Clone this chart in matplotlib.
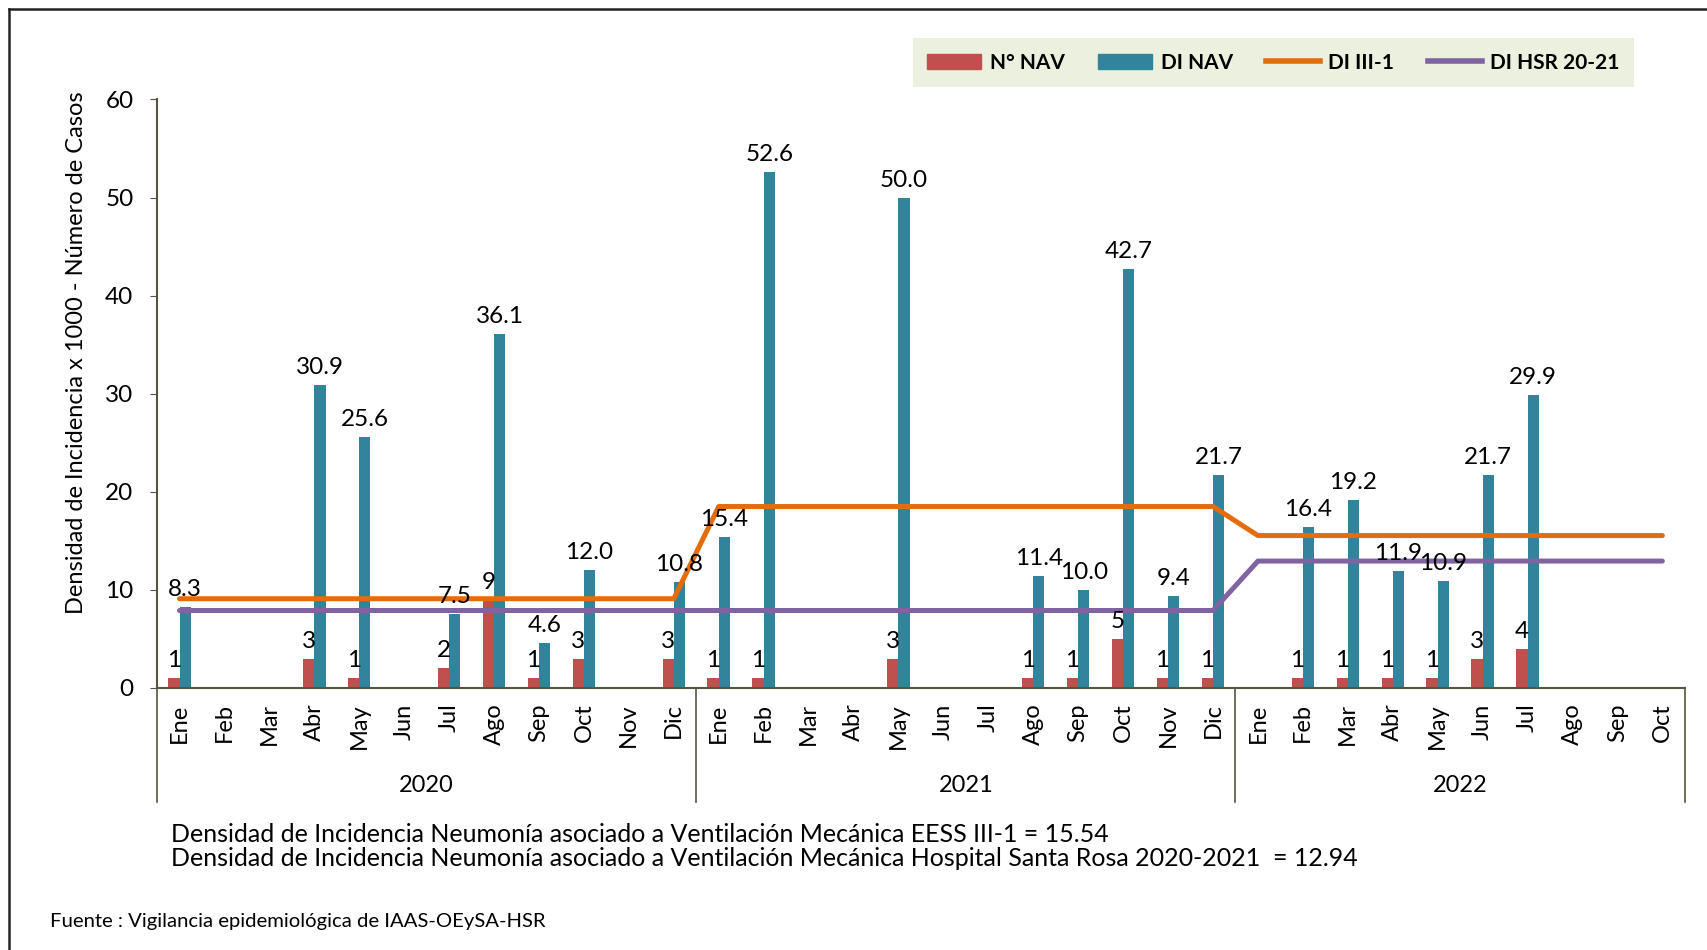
import numpy as np
import matplotlib
matplotlib.use("Agg")
import matplotlib.pyplot as plt
from matplotlib.patches import Patch
from matplotlib.lines import Line2D

plt.rcParams['font.family'] = ['Lato', 'DejaVu Sans']

# data (None = sin dato)
months = ["Ene", "Feb", "Mar", "Abr", "May", "Jun", "Jul", "Ago", "Sep", "Oct", "Nov", "Dic"] * 2 + \
         ["Ene", "Feb", "Mar", "Abr", "May", "Jun", "Jul", "Ago", "Sep", "Oct"]
years = ["2020", "2021", "2022"]
year_len = [12, 12, 10]

n_nav = [1, None, None, 3, 1, None, 2, 9, 1, 3, None, 3,
         1, 1, None, None, 3, None, None, 1, 1, 5, 1, 1,
         None, 1, 1, 1, 1, 3, 4, None, None, None]
di_nav = [8.3, None, None, 30.9, 25.6, None, 7.5, 36.1, 4.6, 12.0, None, 10.8,
          15.4, 52.6, None, None, 50.0, None, None, 11.4, 10.0, 42.7, 9.4, 21.7,
          None, 16.4, 19.2, 11.9, 10.9, 21.7, 29.9, None, None, None]
di_iii1 = [9.1] * 12 + [18.5] * 12 + [15.54] * 10
di_hsr = [7.9] * 24 + [12.94] * 10

c_red = "#C0504D"
c_teal = "#31849B"
c_orange = "#E46C0A"
c_purple = "#8064A2"
c_axis = "#57553F"

fig = plt.figure(figsize=(17.07, 9.5), dpi=100)
ax = fig.add_axes([0.092, 0.2758, 0.895, 0.6195])

x = np.arange(len(months))
w = 0.25
red_vals = np.array([np.nan if v is None else v for v in n_nav], dtype=float)
teal_vals = np.array([np.nan if v is None else v for v in di_nav], dtype=float)

ax.bar(x - w / 2, np.nan_to_num(red_vals), w, color=c_red, zorder=2)
ax.bar(x + w / 2, np.nan_to_num(teal_vals), w, color=c_teal, zorder=2)
ax.plot(x, di_iii1, color=c_orange, lw=3.6, solid_capstyle='round', zorder=3)
ax.plot(x, di_hsr, color=c_purple, lw=3.6, solid_capstyle='round', zorder=3)

# data labels
for i in range(len(x)):
    if n_nav[i] is not None:
        ax.annotate(f"{n_nav[i]}", (x[i] - w / 2, n_nav[i]), xytext=(0, 5),
                    textcoords="offset points", ha="center", va="bottom", fontsize=17.5, zorder=4)
    if di_nav[i] is not None:
        ax.annotate(f"{di_nav[i]:.1f}", (x[i] + w / 2, di_nav[i]), xytext=(0, 5),
                    textcoords="offset points", ha="center", va="bottom", fontsize=17.5, zorder=4)

ax.set_xlim(-0.5, len(x) - 0.5)
ax.set_ylim(0, 60)
ax.set_yticks(range(0, 61, 10))
ax.tick_params(axis='y', labelsize=17.5, length=5, color=c_axis, pad=12)
ax.set_xticks(x)
ax.set_xticklabels(months, rotation=90, fontsize=17)
ax.tick_params(axis='x', length=0, pad=11)

for s in ["top", "right"]:
    ax.spines[s].set_visible(False)
for s in ["left", "bottom"]:
    ax.spines[s].set_color(c_axis)
    ax.spines[s].set_linewidth(1.5)

ax.set_ylabel("Densidad de Incidencia x 1000 - Número de Casos", fontsize=17)
ax.yaxis.set_label_coords(-0.046, 0.569)

# year groups
start = 0
bounds = [-0.5]
for yr, n in zip(years, year_len):
    ax.text(start + n / 2 - 0.5, -0.165, yr, transform=ax.get_xaxis_transform(),
            ha="center", va="center", fontsize=17)
    start += n
    bounds.append(start - 0.5)
for b in bounds:
    ax.plot([b, b], [0, -0.194], transform=ax.get_xaxis_transform(), color=c_axis,
            lw=1.2, clip_on=False)

# legend
handles = [Patch(color=c_red), Patch(color=c_teal),
           Line2D([], [], color=c_orange, lw=4), Line2D([], [], color=c_purple, lw=4)]
labels = ["N° NAV", "DI NAV", "DI III-1", "DI HSR 20-21"]
leg = fig.legend(handles, labels, loc="center", bbox_to_anchor=(0.746, 0.934), ncol=4,
                 frameon=True, fancybox=False, facecolor="#EBF1DE", edgecolor="none",
                 prop={"weight": "bold", "size": 15}, handlelength=2.6, columnspacing=1.6,
                 borderpad=0.7, handletextpad=0.4)
leg.get_frame().set_alpha(1)

fig.text(0.1, 1 - 834 / 950, "Densidad de Incidencia Neumonía asociado a Ventilación Mecánica EESS III-1 = 15.54",
         fontsize=18, va="center")
fig.text(0.1, 1 - 859 / 950,
         "Densidad de Incidencia Neumonía asociado a Ventilación Mecánica Hospital Santa Rosa 2020-2021  = 12.94",
         fontsize=18, va="center")
fig.text(0.029, 1 - 921 / 950, "Fuente : Vigilancia epidemiológica de IAAS-OEySA-HSR", fontsize=14.6, va="center")

# outer frame (left/top)
fig.add_artist(Line2D([9 / 1707, 9 / 1707], [0, 1 - 9 / 950], color="#222222", lw=1.8))
fig.add_artist(Line2D([9 / 1707, 1], [1 - 9 / 950, 1 - 9 / 950], color="#222222", lw=1.8))

fig.savefig("out.png", dpi=100)
